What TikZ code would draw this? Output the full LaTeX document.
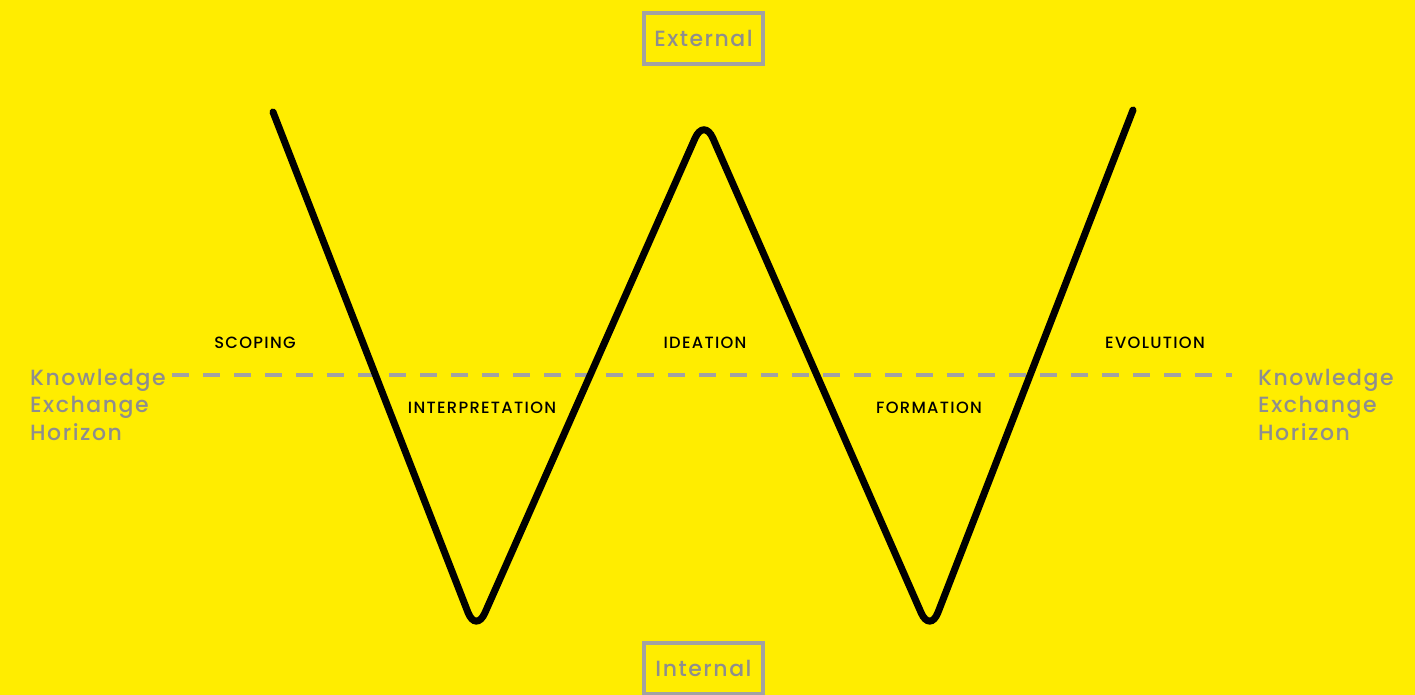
\documentclass[tikz,border=0pt]{standalone}
\usepackage{fontspec}
\setmainfont{Poppins Medium}
\usetikzlibrary{positioning}
\definecolor{wyellow}{HTML}{FFED00}
\definecolor{hgray}{HTML}{A2A2A2}
\definecolor{tgray}{HTML}{8E8E8E}

\begin{document}
\begin{tikzpicture}[x=1pt, y=-1pt,
  phase/.style={font=\fontsize{16.3}{18}\selectfont\addfontfeature{LetterSpace=8}, text=black, inner sep=0pt},
  side/.style={font=\fontsize{22}{27.5}\selectfont\addfontfeature{LetterSpace=7}, text=tgray, align=left, inner sep=0pt, anchor=base west},
  realm/.style={draw=hgray, line width=4pt, text=tgray, font=\fontsize{22}{24}\selectfont\addfontfeature{LetterSpace=7},
    minimum width=119pt, minimum height=51pt, inner sep=0pt}]
  \fill[wyellow] (0,0) rectangle (1415,695);
  \useasboundingbox (0,0) rectangle (1415,695);

  % knowledge exchange horizon
  \coordinate (hleft) at (172,375);
  \coordinate (hright) at (1232,375);
  \draw[hgray, line width=4pt, dash pattern=on 17pt off 14pt] (hleft) -- (hright);
  \node[side] (kehleft) at (30,440) {Knowledge\\Exchange\\Horizon};
  \node[side] (kehright) at (1258,440) {Knowledge\\Exchange\\Horizon};

  % the W
  \coordinate (wstart) at (273,112);
  \coordinate (trough1) at (476,633);
  \coordinate (peak) at (704,118);
  \coordinate (trough2) at (930,633);
  \coordinate (wend) at (1133,110);
  \draw[line width=7pt, line cap=round, rounded corners=22pt]
    (wstart) -- (trough1) -- (peak) -- (trough2) -- (wend);

  \node[phase] (scoping) at (255,343) {SCOPING};
  \node[phase] (ideation) at (705,343) {IDEATION};
  \node[phase] (evolution) at (1155,343) {EVOLUTION};
  \node[phase] (interp) at (482,408) {INTERPRETATION};
  \node[phase] (formation) at (929,408) {FORMATION};

  \node[realm] (external) at (703.5,38.5) {External};
  \node[realm] (internal) at (703.5,668.5) {Internal};
\end{tikzpicture}
\end{document}
